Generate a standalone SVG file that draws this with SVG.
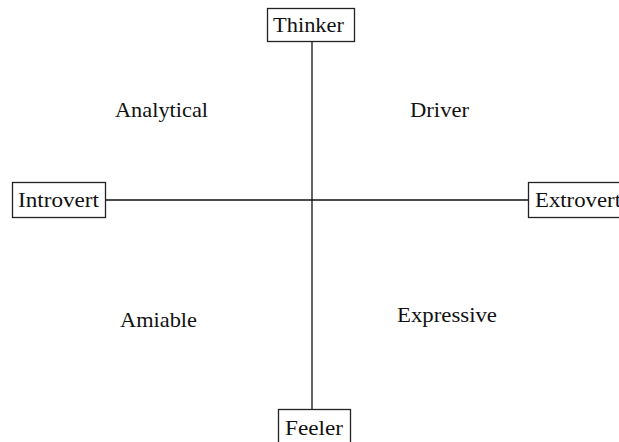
<svg xmlns="http://www.w3.org/2000/svg" width="619" height="442" viewBox="0 0 619 442">
  <style>
    .box { fill: #ffffff; stroke: #222222; stroke-width: 1.3; }
    .axis { stroke: #111111; stroke-width: 1.3; fill: none; }
    text { font-family: "Liberation Serif", "Times New Roman", serif; font-size: 21px; fill: #111111; }
  </style>
  <rect width="619" height="442" fill="#ffffff"/>

  <!-- axes -->
  <g id="connectors">
    <line class="axis" x1="312" y1="42" x2="312" y2="409"/>
    <line class="axis" x1="106" y1="200" x2="528" y2="200"/>
  </g>

  <!-- axis end labels -->
  <g id="thinker">
    <rect class="box" x="267.5" y="8.5" width="87" height="33"/>
    <text x="273" y="32" textLength="71" lengthAdjust="spacingAndGlyphs">Thinker</text>
  </g>
  <g id="introvert">
    <rect class="box" x="12.5" y="182.5" width="93" height="35"/>
    <text x="18" y="207" textLength="81" lengthAdjust="spacingAndGlyphs">Introvert</text>
  </g>
  <g id="extrovert">
    <rect class="box" x="528.5" y="182.5" width="100" height="35"/>
    <text x="535" y="207" textLength="86" lengthAdjust="spacingAndGlyphs">Extrovert</text>
  </g>
  <g id="feeler">
    <rect class="box" x="278.5" y="409.5" width="72" height="40"/>
    <text x="285" y="435" textLength="58" lengthAdjust="spacingAndGlyphs">Feeler</text>
  </g>

  <!-- quadrant labels -->
  <g id="analytical">
    <text x="115" y="117" textLength="93" lengthAdjust="spacingAndGlyphs">Analytical</text>
  </g>
  <g id="driver">
    <text x="410" y="117" textLength="59" lengthAdjust="spacingAndGlyphs">Driver</text>
  </g>
  <g id="amiable">
    <text x="120" y="327" textLength="77" lengthAdjust="spacingAndGlyphs">Amiable</text>
  </g>
  <g id="expressive">
    <text x="397" y="322" textLength="100" lengthAdjust="spacingAndGlyphs">Expressive</text>
  </g>
</svg>
